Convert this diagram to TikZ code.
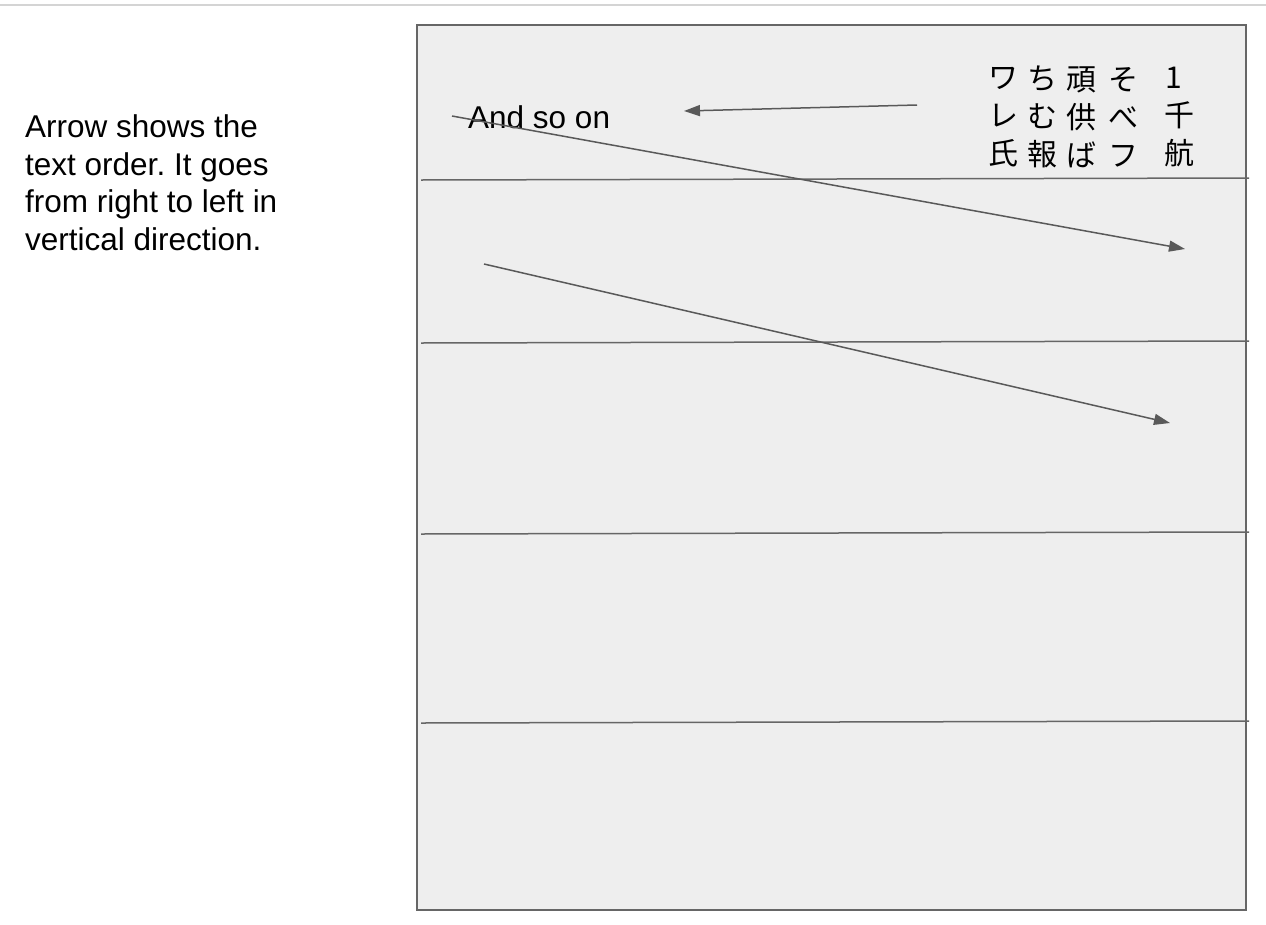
\documentclass[tikz,border=0pt]{standalone}
\usepackage{fontspec}
\setmainfont{Liberation Sans}
\newfontfamily\jpfont{Noto Sans CJK JP}
\usepackage{tikz}
\usetikzlibrary{arrows.meta,positioning}
\definecolor{sheetgray}{RGB}{238,238,238}
\definecolor{rulegray}{RGB}{102,102,102}
\definecolor{arrowgray}{RGB}{89,89,89}
\definecolor{bargray}{RGB}{212,212,212}
\frenchspacing

\begin{document}
\begin{tikzpicture}[
    x=1pt, y=-1pt,
    note/.style={inner sep=0pt, font=\fontsize{31.5}{37.5}\selectfont, align=left},
    jcol/.style={inner sep=0pt, font=\jpfont\fontsize{30}{38}\selectfont, align=center},
    sep/.style={line width=1.5pt, rulegray},
    arr/.style={-{Triangle[length=16pt,width=11pt]}, line width=1.5pt, arrowgray}
]
\useasboundingbox (0,0) rectangle (1266,924);
\draw[line width=2.5pt, bargray] (0,5) -- (1266,5);
\draw[line width=2pt, rulegray, fill=sheetgray] (417,25) rectangle (1246,910);

\coordinate (h1w) at (421,180);
\coordinate (h1e) at (1249,178);
\coordinate (h2w) at (421,343);
\coordinate (h2e) at (1249,341);
\coordinate (h3w) at (421,534);
\coordinate (h3e) at (1249,532);
\coordinate (h4w) at (421,723);
\coordinate (h4e) at (1249,721);
\draw[sep] (h1w) -- (h1e);
\draw[sep] (h2w) -- (h2e);
\draw[sep] (h3w) -- (h3e);
\draw[sep] (h4w) -- (h4e);

\node[note, anchor=north west] (hint) at (25,114.5) {Arrow shows the\\text order. It goes\\from right to left in\\vertical direction.};
\node[note, anchor=base west] (more) at (468,128) {And so on};

\node[jcol] (c1) at (1179,117) {1\hspace*{10pt}\\千\\航};
\node[jcol] (c2) at (1123,117) {そ\\べ\\フ};
\node[jcol] (c3) at (1081,117) {頑\\供\\ば};
\node[jcol] (c4) at (1042,117) {ち\\む\\報};
\node[jcol] (c5) at (1003,117) {ワ\\レ\\氏};

\coordinate (a1s) at (917,105);
\coordinate (a1e) at (684,111);
\coordinate (a2s) at (452,116);
\coordinate (a2e) at (1185,249);
\coordinate (a3s) at (484,264);
\coordinate (a3e) at (1170,423);
\draw[arr] (a1s) -- (a1e);
\draw[arr] (a2s) -- (a2e);
\draw[arr] (a3s) -- (a3e);
\end{tikzpicture}
\end{document}
